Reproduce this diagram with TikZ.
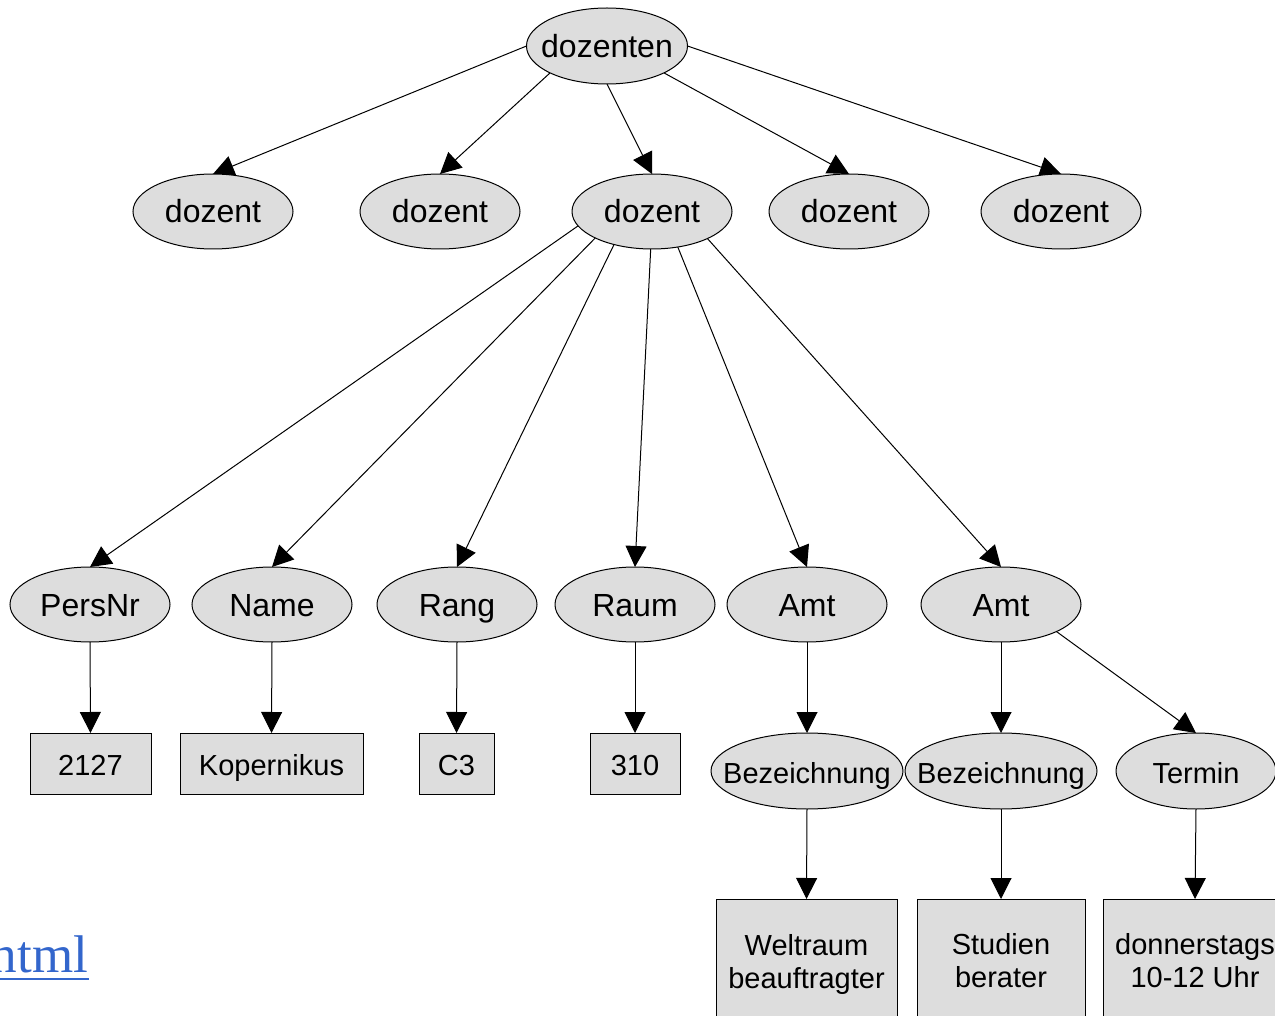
\documentclass[tikz,border=0pt]{standalone}
\usepackage{fontspec}
\setmainfont{Liberation Sans}
\newfontfamily\linkfont{Liberation Serif}
\usetikzlibrary{shapes.geometric,arrows.meta,backgrounds}
\definecolor{nodegray}{RGB}{221,221,221}
\definecolor{linkblue}{RGB}{51,102,204}
\newcommand{\zb}[1]{\makebox[0pt]{#1}}
\begin{document}
\begin{tikzpicture}[x=0.5pt,y=-0.5pt,
  ell/.style={ellipse, draw, fill=nodegray, line width=0.5pt, inner sep=0pt, outer sep=0pt,
    minimum width=80pt, minimum height=37.5pt, font=\fontsize{16}{19}\selectfont,
    text height=12pt, text depth=0.5pt},
  ellsmall/.style={ell, font=\fontsize{14.5}{17}\selectfont, minimum height=38pt,
    text height=12.5pt, text depth=0.5pt},
  val/.style={rectangle, draw, fill=nodegray, line width=0.5pt, inner sep=0pt, outer sep=0pt,
    minimum height=30.5pt, font=\fontsize{14.5}{17}\selectfont, text height=12pt, text depth=0.5pt},
  bigval/.style={rectangle, draw, fill=nodegray, line width=0.5pt, inner sep=0pt, outer sep=0pt,
    font=\fontsize{14.5}{16.5}\selectfont, align=center},
  edge/.style={line width=0.5pt, -{Triangle[length=10.5pt,width=10.5pt]}}
]
\useasboundingbox (0,0) rectangle (1275,1016);
\clip (0,0) rectangle (1275,1016);

% root
\node[ell, minimum width=80.5pt, minimum height=38pt] (root) at (607,46) {\zb{dozenten}};
% level 1
\node[ell] (d1) at (213,211.5) {\zb{dozent}};
\node[ell] (d2) at (440,211.5) {\zb{dozent}};
\node[ell] (d3) at (652,211.5) {\zb{dozent}};
\node[ell] (d4) at (849,211.5) {\zb{dozent}};
\node[ell] (d5) at (1061,211.5) {\zb{dozent}};
% level 2
\node[ell] (pers) at (90,604.5) {\zb{PersNr}};
\node[ell] (name) at (272,604.5) {\zb{Name}};
\node[ell] (rang) at (457,604.5) {\zb{Rang}};
\node[ell] (raum) at (635,604.5) {\zb{Raum}};
\node[ell] (amt1) at (807,604.5) {\zb{Amt}};
\node[ell] (amt2) at (1001,604.5) {\zb{Amt}};
% level 3 values
\node[val, minimum width=60.5pt] (v1) at (90.5,763.5) {2127};
\node[val, minimum width=91.5pt] (v2) at (271.5,763.5) {Kopernikus};
\node[val, minimum width=37.5pt] (v3) at (456.5,763.5) {C3};
\node[val, minimum width=45pt] (v4) at (635,763.5) {310};
% level 3 ellipses
\node[ellsmall, minimum width=96pt] (bez1) at (807,771) {\zb{Bezeichnung}};
\node[ellsmall, minimum width=96pt] (bez2) at (1001,771) {\zb{Bezeichnung}};
\node[ellsmall, minimum width=80pt] (termin) at (1196,771) {\zb{Termin}};
% level 4 values
\node[bigval, minimum width=90.5pt, minimum height=65pt] (welt) at (806.5,964) {Weltraum\\beauftragter};
\node[bigval, minimum width=84pt, minimum height=62pt] (stud) at (1001,961) {Studien\\berater};
\node[bigval, minimum width=92pt, minimum height=62pt] (donn) at (1195,961) {donnerstags\\10-12 Uhr};

% link text
\node[font=\linkfont\fontsize{26.5}{30}\selectfont, text=linkblue, anchor=base east, inner sep=0pt] (link) at (88.5,972) {html};
\draw[linkblue, line width=1.25pt] ([yshift=-3.5pt]link.base west) -- ([yshift=-3.5pt]link.base east);

\begin{scope}[on background layer]
\draw[edge] (root.west) -- (d1.north);
\draw[edge] (root.south west) -- (d2.north);
\draw[edge] (root.south) -- (d3.north);
\draw[edge] (root.south east) -- (d4.north);
\draw[edge] (root.east) -- (d5.north);
\draw[edge] (d3.191) -- (pers.north);
\draw[edge] (d3.205) -- (name.north);
\draw[edge] (d3.221) -- (rang.north);
\draw[edge] (d3.268) -- (raum.north);
\draw[edge] (d3.306) -- (amt1.north);
\draw[edge] (d3.334) -- (amt2.north);
\draw[edge] (pers.south) -- (v1.north);
\draw[edge] (name.south) -- (v2.north);
\draw[edge] (rang.south) -- (v3.north);
\draw[edge] (raum.south) -- (v4.north);
\draw[edge] (amt1.south) -- (bez1.north);
\draw[edge] (amt2.south) -- (bez2.north);
\draw[edge] (amt2.334) -- (termin.north);
\draw[edge] (bez1.south) -- (welt.north);
\draw[edge] (bez2.south) -- (stud.north);
\draw[edge] (termin.south) -- (donn.north);
\end{scope}
\end{tikzpicture}
\end{document}
